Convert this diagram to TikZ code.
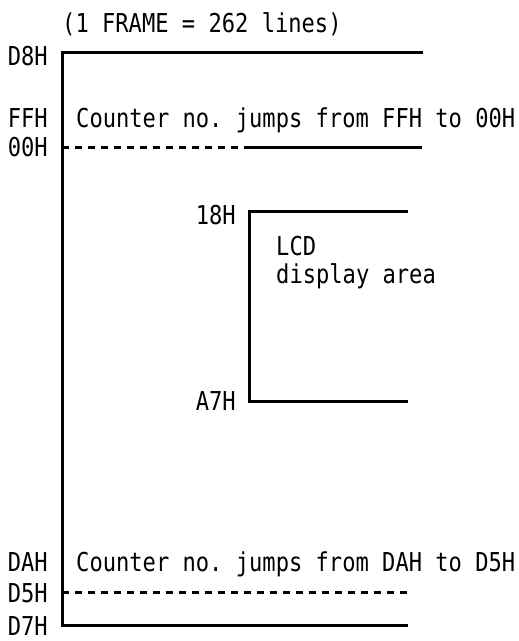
\documentclass[tikz,border=0pt]{standalone}
\usepackage{fontspec}
\setmonofont[FakeStretch=0.85]{DejaVu Sans Mono}
\begin{document}
\begin{tikzpicture}[x=1pt,y=-1pt,
  lbl/.style={font=\ttfamily\fontsize{26}{28}\selectfont,inner sep=0pt,anchor=base east},
  txt/.style={font=\ttfamily\fontsize{26}{28}\selectfont,inner sep=0pt,anchor=base west},
  solidline/.style={line width=3pt},
  dashline/.style={line width=3pt,dash pattern=on 7pt off 6pt}]
\useasboundingbox (0,0) rectangle (519,641);
% title
\node[txt] (title) at (62,32) {(1 FRAME = 262 lines)};
% labels
\node[lbl] (d8h) at (48,65) {D8H};
\node[lbl] (ffh) at (48,127) {FFH};
\node[lbl] (h00) at (48,156) {00H};
\node[lbl] (h18) at (236,224) {18H};
\node[lbl] (a7h) at (236,410) {A7H};
\node[lbl] (dah) at (48,571) {DAH};
\node[lbl] (d5h) at (48,602) {D5H};
\node[lbl] (d7h) at (48,635) {D7H};
\node[txt] (jump1) at (76,127) {Counter no. jumps from FFH to 00H};
\node[txt] (jump2) at (76,571) {Counter no. jumps from DAH to D5H};
\node[txt] (lcd) at (276,255) {LCD};
\node[txt] (area) at (276,283) {display area};
% coordinates
\coordinate (vt) at (62,52);
\coordinate (vb) at (62,625);
\coordinate (tr) at (423,52);
\coordinate (da) at (62,147);
\coordinate (db) at (245,147);
\coordinate (dc) at (422,147);
\coordinate (it) at (249,211);
\coordinate (itr) at (408,211);
\coordinate (ib) at (249,401);
\coordinate (ibr) at (408,401);
\coordinate (ea) at (62,592);
\coordinate (eb) at (408,592);
\coordinate (br) at (408,625);
% lines
\draw[solidline] (tr) -- (vt) -- (vb) -- (br);
\draw[dashline] (da) -- (db);
\draw[solidline] (db) -- (dc);
\draw[solidline] (itr) -- (it) -- (ib) -- (ibr);
\draw[dashline] (ea) -- (eb);
\end{tikzpicture}
\end{document}
